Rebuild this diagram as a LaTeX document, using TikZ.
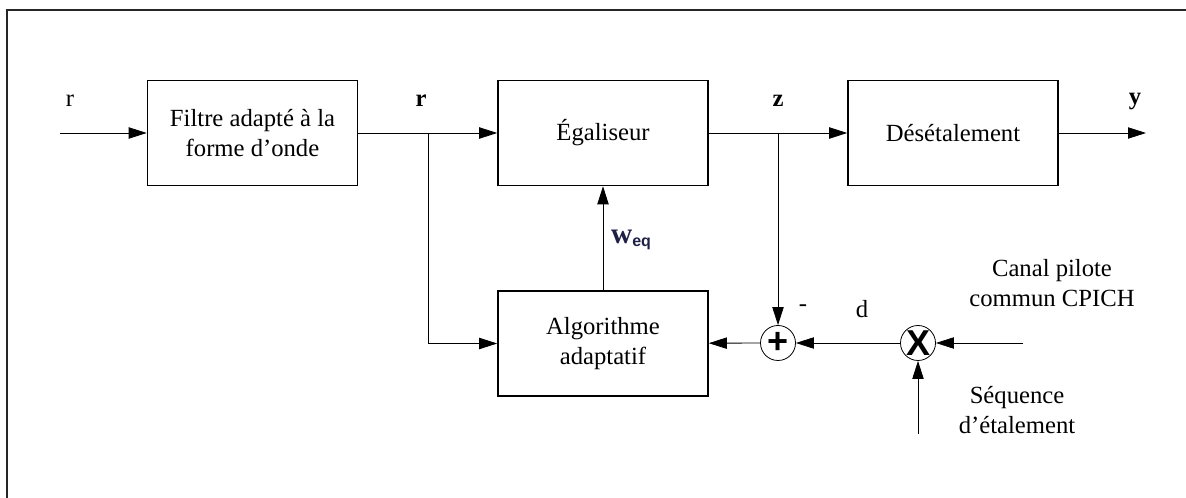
\documentclass[tikz,border=0pt]{standalone}
\usepackage{fontspec}
\setmainfont{Liberation Serif}
\setsansfont{Liberation Sans}
\usetikzlibrary{arrows.meta}
\definecolor{weqcol}{RGB}{30,32,70}
\newcommand{\Weq}{\textcolor{weqcol}{{\fontsize{22}{22}\selectfont\textbf{w}}\raisebox{-0.3ex}{\fontsize{12}{12}\selectfont\sffamily\bfseries eq}}}

\begin{document}
\begin{tikzpicture}[x=0.75pt, y=-0.75pt,
    every node/.style={font=\fontsize{18.5}{22.5}\selectfont},
    bloc/.style={draw, line width=1.2pt, minimum width=157.5pt, minimum height=78.75pt, inner sep=0pt, align=center},
    somme/.style={draw, circle, line width=0.6pt, minimum size=26.25pt, inner sep=0pt, font=\fontsize{27}{27}\selectfont\sffamily\bfseries},
    fleche/.style={line width=0.6pt, -{Triangle[length=13.5pt, width=8.5pt]}},
    trait/.style={line width=0.6pt}]
				\clip (0,0) rectangle (1186,498);
				\draw[line width=1.5pt, black!85] (7,10) rectangle (1220,530);
				% blocs
				\node[bloc] (filtre) at (252.5,133) {Filtre adapté à la\\forme d’onde};
				\node[bloc] (egal) at (603,133) {Égaliseur};
				\node[bloc] (desetal) at (953,133) {Désétalement};
				\node[bloc] (algo) at (603,343.5) {Algorithme\\adaptatif};
				\node[somme] (plus) at (778,343) {+};
				\node[somme] (mult) at (918,343) {X};
				% extremites
				\coordinate (entree) at (60,133);
				\coordinate (sortie) at (1146,133);
				\coordinate (brR) at (428,133);
				\coordinate (brZ) at (778,133);
				\coordinate (pilote) at (1023,343);
				\coordinate (seqIn) at (918,434);
				% liaisons
				\draw[fleche] (entree) -- (filtre);
				\draw[fleche] (filtre) -- (egal);
				\draw[fleche] (egal) -- (desetal);
				\draw[fleche] (desetal) -- (sortie);
				\draw[fleche] (brR) |- (algo);
				\draw[fleche] (brZ) -- (plus);
				\draw[fleche] (algo) -- (egal);
				\draw[fleche] (plus) -- (algo);
				\draw[fleche] (mult) -- (plus);
				\draw[fleche] (pilote) -- (mult);
				\draw[fleche] (seqIn) -- (mult);
				% etiquettes
				\node (lr) at (70,101) {r};
				\node (lrb) at (421,101) {\textbf{r}};
				\node (lz) at (778,101) {\textbf{z}};
				\node (ly) at (1135,102) {\textbf{y}};
				\node (lweq) at (631,240) {\Weq};
				\node (lmoins) at (803,308) {-};
				\node (ld) at (862,309) {d};
				\node[align=center] (lcanal) at (1052,283) {Canal pilote\\commun CPICH};
				\node[align=center] (lseq) at (1017,410) {Séquence\\d’étalement};
			\end{tikzpicture}
\end{document}
